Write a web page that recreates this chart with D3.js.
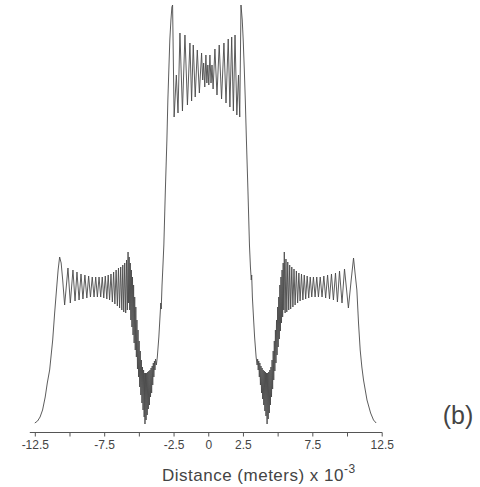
<!DOCTYPE html>
<html>
<head>
<meta charset="utf-8">
<script src="https://cdn.jsdelivr.net/npm/d3@7"></script>
<style>
body{margin:0;background:#fff;}
#chart svg{display:block;}
.axis text{font-family:"Liberation Sans",Arial,sans-serif;}
</style>
</head>
<body>
<div id="chart"></div>
<script>

// distance in mm (x 10^-3 m), intensity in arbitrary units
let leftTail= [[-12.5,0.02],[-12.3,0.04],[-12.12,0.08],[-11.94,0.15],[-11.75,0.28],[-11.6,0.42],[-11.43,0.55],[-11.21,0.85],[-11.07,1.12],[-10.92,1.38],[-10.82,1.55],[-10.71,1.68],[-10.6,1.62],[-10.49,1.45],[-10.35,1.2]];

let leftLobe= [[-10.11,1.57],[-9.94,1.22],[-9.75,1.55],[-9.6,1.24],[-9.46,1.53],[-9.31,1.25],[-9.17,1.51],[-9.03,1.26],[-8.89,1.5],[-8.75,1.27],[-8.62,1.49],[-8.49,1.28],[-8.36,1.48],[-8.23,1.28],[-8.11,1.48],[-7.99,1.28],[-7.87,1.48],[-7.75,1.28],[-7.64,1.48],[-7.53,1.27],[-7.42,1.49],[-7.31,1.26],[-7.21,1.5],[-7.11,1.25],[-7.01,1.51],[-6.91,1.23],[-6.82,1.53],[-6.73,1.21],[-6.64,1.55],[-6.55,1.19],[-6.47,1.57],[-6.39,1.17],[-6.31,1.58],[-6.23,1.15],[-6.16,1.6],[-6.09,1.13],[-6.02,1.62],[-5.95,1.12],[-5.89,1.65],[-5.83,1.15],[-5.78,1.73]];

let leftDip= [[-5.74,1.22],[-5.7,1.68],[-5.66,1.15],[-5.62,1.62],[-5.58,1.05],[-5.54,1.55],[-5.5,0.98],[-5.46,1.48],[-5.42,0.9],[-5.38,1.4],[-5.34,0.82],[-5.3,1.28],[-5.26,0.75],[-5.22,1.18],[-5.18,0.68],[-5.14,1.05],[-5.1,0.56],[-5.06,0.95],[-5.02,0.48],[-4.98,0.84],[-4.94,0.38],[-4.9,0.74],[-4.86,0.3],[-4.82,0.65],[-4.78,0.22],[-4.74,0.58],[-4.7,0.15],[-4.66,0.55],[-4.62,0.08],[-4.58,0.52],[-4.56,0.01],[-4.52,0.52],[-4.48,0.05],[-4.44,0.52],[-4.4,0.1],[-4.36,0.53],[-4.32,0.16],[-4.28,0.54],[-4.24,0.2],[-4.2,0.55],[-4.16,0.28],[-4.12,0.57],[-4.08,0.32],[-4.04,0.59],[-4,0.4],[-3.96,0.62],[-3.92,0.48],[-3.88,0.64],[-3.84,0.55],[-3.8,0.66],[-3.74,0.6]];

let leftRise= [[-3.67,0.68],[-3.56,0.88],[-3.49,1.05],[-3.42,1.22],[-3.39,1.16],[-3.33,1.4],[-3.27,1.58],[-3.2,1.8],[-3.09,2.35],[-2.98,2.85],[-2.91,3.25],[-2.84,3.55],[-2.77,3.85],[-2.69,4.05],[-2.62,4.18]];

let centre= [[-2.57,4.2],[-2.46,3.08],[-2.3,3.5],[-2.18,3.12],[-2.04,3.92],[-1.86,3.14],[-1.68,3.9],[-1.5,3.2],[-1.32,3.82],[-1.2,3.24],[-1.08,3.8],[-0.94,3.28],[-0.79,3.75],[-0.64,3.32],[-0.48,3.72],[-0.4,3.45],[-0.33,3.62],[-0.25,3.38],[-0.17,3.7],[-0.1,3.42],[-0.03,3.6],[0.04,3.4],[0.12,3.7],[0.2,3.42],[0.27,3.6],[0.35,3.36],[0.48,3.76],[0.63,3.3],[0.79,3.8],[0.96,3.26],[1.13,3.82],[1.28,3.22],[1.44,3.86],[1.56,3.18],[1.69,3.88],[1.81,3.14],[1.93,3.9],[2.06,3.1],[2.18,3.5],[2.27,3.08],[2.36,4.2]];

let rightFall= [[2.45,4.05],[2.52,3.85],[2.6,3.55],[2.67,3.25],[2.75,2.85],[2.86,2.35],[2.97,1.8],[3.04,1.58],[3.1,1.45],[3.13,1.5],[3.18,1.28],[3.27,1.05],[3.34,0.88],[3.45,0.68]];

let rightDip= [[3.52,0.6],[3.56,0.66],[3.6,0.55],[3.64,0.64],[3.68,0.48],[3.72,0.62],[3.76,0.4],[3.8,0.59],[3.84,0.32],[3.88,0.57],[3.92,0.26],[3.96,0.55],[4,0.2],[4.04,0.54],[4.08,0.14],[4.12,0.53],[4.16,0.09],[4.2,0.52],[4.24,0.01],[4.28,0.52],[4.32,0.06],[4.36,0.53],[4.4,0.12],[4.44,0.55],[4.48,0.2],[4.52,0.58],[4.56,0.28],[4.6,0.65],[4.64,0.36],[4.68,0.74],[4.72,0.45],[4.76,0.84],[4.8,0.54],[4.84,0.95],[4.88,0.62],[4.92,1.05],[4.96,0.7],[5,1.18],[5.04,0.78],[5.08,1.28],[5.12,0.86],[5.16,1.4],[5.2,0.94],[5.24,1.48],[5.28,1.02],[5.32,1.55],[5.36,1.08],[5.4,1.62],[5.44,1.15],[5.48,1.73]];

let rightLobe= [[5.54,1.12],[5.6,1.66],[5.66,1.13],[5.73,1.63],[5.8,1.15],[5.87,1.6],[5.94,1.16],[6.02,1.58],[6.1,1.18],[6.18,1.56],[6.26,1.2],[6.35,1.54],[6.44,1.22],[6.53,1.52],[6.62,1.24],[6.72,1.51],[6.82,1.25],[6.92,1.5],[7.02,1.26],[7.13,1.49],[7.24,1.27],[7.35,1.48],[7.46,1.28],[7.58,1.48],[7.7,1.28],[7.82,1.48],[7.94,1.28],[8.07,1.48],[8.2,1.28],[8.33,1.49],[8.46,1.27],[8.6,1.5],[8.74,1.26],[8.88,1.51],[9.02,1.25],[9.17,1.52],[9.31,1.23],[9.46,1.54],[9.64,1.22],[9.82,1.56],[10.1,1.17]];

let rightTail= [[10.3,1.45],[10.47,1.67],[10.58,1.52],[10.71,1.35],[10.83,1.02],[10.95,0.75],[11.07,0.58],[11.19,0.45],[11.44,0.25],[11.7,0.12],[11.91,0.05],[12.1,0.02]];

let xTicks= [-12.5,-10,-7.5,-5,-2.5,0,2.5,5,7.5,10,12.5];
let xTickLabels= ["-12.5","","-7.5","","-2.5","0","2.5","","7.5","","12.5"];

let width= 480;
let height= 487;

let pattern= [].concat(leftTail,leftLobe,leftDip,leftRise,centre,rightFall,rightDip,rightLobe,rightTail);

let x= d3.scaleLinear().domain([-12.5,12.5]).range([34.8,381.7]);
let y= d3.scaleLinear().domain([0,4.2]).range([425,5]);

let chart= d3.select("#chart")
.append("svg")
.attr("width",width).attr("height",height);

chart.append("rect").attr("width",width).attr("height",height).attr("fill","#fff");

let line= d3.line()
.x(d=>x(d[0]))
.y(d=>y(d[1]));

chart.append("path")
.datum(pattern)
.attr("d",line)
.attr("fill","none")
.attr("stroke","#4a4a4a")
.attr("stroke-width",0.9)
.attr("stroke-linejoin","miter");

let axis= d3.axisBottom(x)
.tickValues(xTicks)
.tickSize(4)
.tickSizeOuter(0)
.tickFormat((d,i)=>xTickLabels[i]);

let gx= chart.append("g")
.attr("class","axis")
.attr("transform","translate(0,432.5)")
.call(axis);

gx.select(".domain").remove();
gx.append("line")
.attr("x1",x.range()[0]-5).attr("x2",x.range()[1]+0.5)
.attr("stroke","#555").attr("stroke-width",1.2);
gx.selectAll(".tick line").attr("stroke","#555");
gx.selectAll(".tick text")
.attr("y",8)
.attr("dy","0.71em")
.attr("fill","#444")
.style("font-size","12px");

let title= chart.append("text")
.attr("x",162).attr("y",481)
.attr("fill","#444")
.style("font-family","'Liberation Sans',Arial,sans-serif")
.style("font-size","17px")
.style("letter-spacing","0.5px");
title.append("tspan").text("Distance (meters) x 10");
title.append("tspan").attr("dy",-8).style("font-size","12px").text("-3");

chart.append("text")
.attr("x",458).attr("y",424)
.attr("text-anchor","middle")
.attr("fill","#444")
.style("font-family","'Liberation Sans',Arial,sans-serif")
.style("font-size","25px")
.text("(b)");

</script>
</body>
</html>
